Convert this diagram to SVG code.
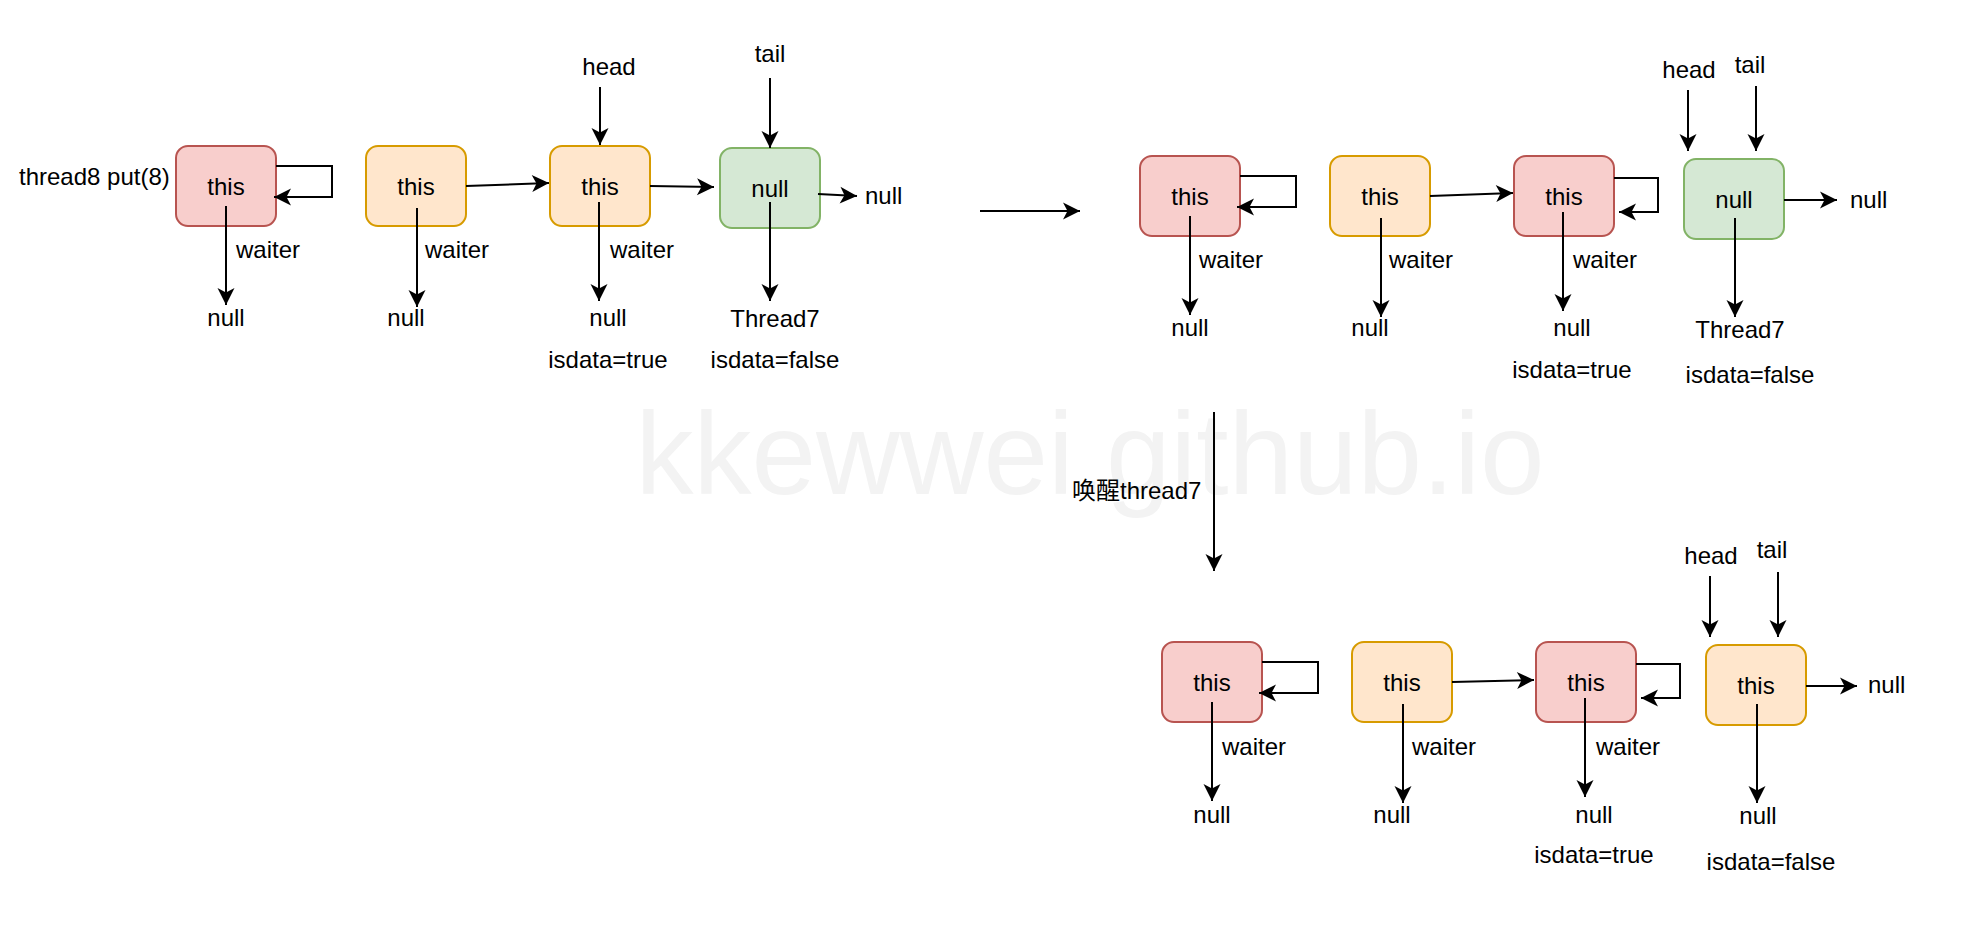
<svg xmlns="http://www.w3.org/2000/svg" width="1983" height="939" viewBox="0 0 1983 939">
<style>
.r{fill:#f8cecc;stroke:#b85450;stroke-width:2}
.o{fill:#ffe6cc;stroke:#d79b00;stroke-width:2}
.g{fill:#d5e8d4;stroke:#82b366;stroke-width:2}
text{font-family:"Liberation Sans",Arial,"Noto Sans CJK SC",sans-serif;font-size:24px;fill:#000}
.c{text-anchor:middle}
.wm{font-size:116px;fill:#f3f3f3;text-anchor:middle}
.e{fill:none;stroke:#000;stroke-width:2;marker-end:url(#a)}
</style>
<defs>
<marker id="a" markerUnits="userSpaceOnUse" markerWidth="20" markerHeight="20" refX="0" refY="0" orient="auto" overflow="visible">
<path d="M0,0 L-17,-8.5 L-12.5,0 L-17,8.5 Z" fill="#000"/>
</marker>
</defs>
<rect width="1983" height="939" fill="#fff"/>
<text class="wm" x="1090" y="494">kkewwei.github.io</text>

<g id="n1"><rect class="r" x="176" y="146" width="100" height="80" rx="12"/><text class="c" x="226" y="195">this</text></g>
<g id="n2"><rect class="o" x="366" y="146" width="100" height="80" rx="12"/><text class="c" x="416" y="195">this</text></g>
<g id="n3"><rect class="o" x="550" y="146" width="100" height="80" rx="12"/><text class="c" x="600" y="195">this</text></g>
<g id="n4"><rect class="g" x="720" y="148" width="100" height="80" rx="12"/><text class="c" x="770" y="197">null</text></g>
<g id="n5"><rect class="r" x="1140" y="156" width="100" height="80" rx="12"/><text class="c" x="1190" y="205">this</text></g>
<g id="n6"><rect class="o" x="1330" y="156" width="100" height="80" rx="12"/><text class="c" x="1380" y="205">this</text></g>
<g id="n7"><rect class="r" x="1514" y="156" width="100" height="80" rx="12"/><text class="c" x="1564" y="205">this</text></g>
<g id="n8"><rect class="g" x="1684" y="159" width="100" height="80" rx="12"/><text class="c" x="1734" y="208">null</text></g>
<g id="n9"><rect class="r" x="1162" y="642" width="100" height="80" rx="12"/><text class="c" x="1212" y="691">this</text></g>
<g id="n10"><rect class="o" x="1352" y="642" width="100" height="80" rx="12"/><text class="c" x="1402" y="691">this</text></g>
<g id="n11"><rect class="r" x="1536" y="642" width="100" height="80" rx="12"/><text class="c" x="1586" y="691">this</text></g>
<g id="n12"><rect class="o" x="1706" y="645" width="100" height="80" rx="12"/><text class="c" x="1756" y="694">this</text></g>

<g id="connectors">
<path class="e" d="M276,166 L332,166 L332,197 L274,197"/>
<path class="e" d="M226,206 L226,305"/>
<path class="e" d="M417,208 L417,307"/>
<path class="e" d="M466,186 L549,183"/>
<path class="e" d="M600,87 L600,145"/>
<path class="e" d="M599,202 L599,301"/>
<path class="e" d="M650,186 L714,187"/>
<path class="e" d="M770,78 L770,148"/>
<path class="e" d="M770,202 L770,301"/>
<path class="e" d="M818,194 L857,196"/>
<path class="e" d="M980,211 L1080,211"/>
<path class="e" d="M1240,176 L1296,176 L1296,207 L1237,207"/>
<path class="e" d="M1190,216 L1190,315"/>
<path class="e" d="M1381,218 L1381,317"/>
<path class="e" d="M1430,196 L1513,193"/>
<path class="e" d="M1614,178 L1658,178 L1658,212 L1619,212"/>
<path class="e" d="M1563,212 L1563,311"/>
<path class="e" d="M1688,90 L1688,151"/>
<path class="e" d="M1756,86 L1756,151"/>
<path class="e" d="M1784,200 L1837,200"/>
<path class="e" d="M1735,218 L1735,317"/>
<path class="e" d="M1214,412 L1214,571"/>
<path class="e" d="M1262,662 L1318,662 L1318,693 L1259,693"/>
<path class="e" d="M1212,702 L1212,801"/>
<path class="e" d="M1403,704 L1403,803"/>
<path class="e" d="M1452,682 L1534,680"/>
<path class="e" d="M1636,664 L1680,664 L1680,698 L1641,698"/>
<path class="e" d="M1585,698 L1585,797"/>
<path class="e" d="M1710,576 L1710,637"/>
<path class="e" d="M1778,572 L1778,637"/>
<path class="e" d="M1806,686 L1857,686"/>
<path class="e" d="M1757,704 L1757,803"/>
</g>

<g id="labels">
<text x="19" y="185">thread8 put(8)</text>
<text x="236" y="258">waiter</text>
<text x="425" y="258">waiter</text>
<text x="610" y="258">waiter</text>
<text class="c" x="226" y="326">null</text>
<text class="c" x="406" y="326">null</text>
<text class="c" x="608" y="326">null</text>
<text class="c" x="609" y="75">head</text>
<text class="c" x="770" y="62">tail</text>
<text class="c" x="608" y="368">isdata=true</text>
<text class="c" x="775" y="327">Thread7</text>
<text class="c" x="775" y="368">isdata=false</text>
<text x="865" y="204">null</text>
<text x="1199" y="268">waiter</text>
<text x="1389" y="268">waiter</text>
<text x="1573" y="268">waiter</text>
<text class="c" x="1190" y="336">null</text>
<text class="c" x="1370" y="336">null</text>
<text class="c" x="1572" y="336">null</text>
<text class="c" x="1572" y="378">isdata=true</text>
<text class="c" x="1689" y="78">head</text>
<text class="c" x="1750" y="73">tail</text>
<text x="1850" y="208">null</text>
<text class="c" x="1740" y="338">Thread7</text>
<text class="c" x="1750" y="383">isdata=false</text>
<text x="1072" y="499">唤醒thread7</text>
<text x="1222" y="755">waiter</text>
<text x="1412" y="755">waiter</text>
<text x="1596" y="755">waiter</text>
<text class="c" x="1212" y="823">null</text>
<text class="c" x="1392" y="823">null</text>
<text class="c" x="1594" y="823">null</text>
<text class="c" x="1594" y="863">isdata=true</text>
<text class="c" x="1711" y="564">head</text>
<text class="c" x="1772" y="558">tail</text>
<text x="1868" y="693">null</text>
<text class="c" x="1758" y="824">null</text>
<text class="c" x="1771" y="870">isdata=false</text>
</g>
</svg>
